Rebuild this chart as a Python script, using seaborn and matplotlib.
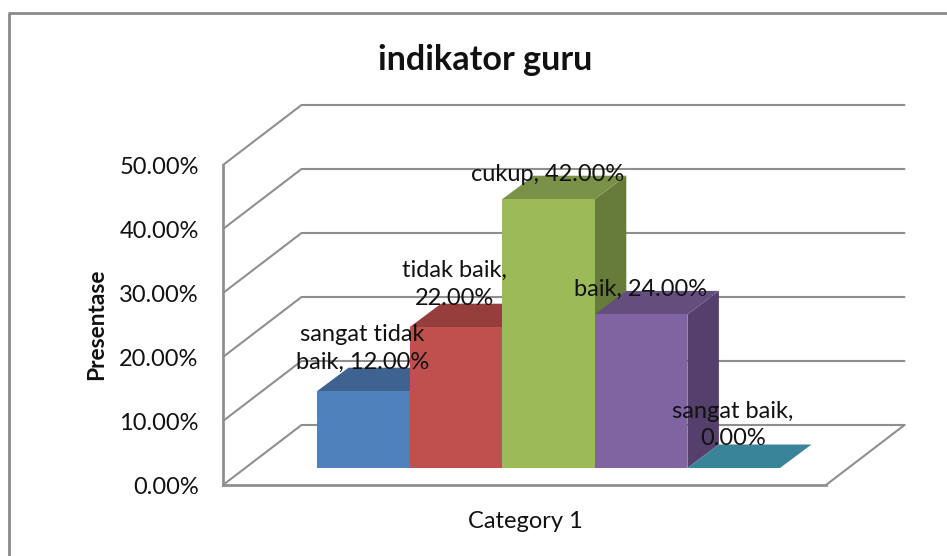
import matplotlib
matplotlib.use("Agg")
import matplotlib.pyplot as plt
from matplotlib.lines import Line2D
from matplotlib.patches import Polygon
from matplotlib.transforms import Affine2D
import pandas as pd
import seaborn as sns

# ---- data ----
category = ["Category 1"] * 5
series = ["sangat tidak baik", "tidak baik", "cukup", "baik", "sangat baik"]
values = [12.0, 22.0, 42.0, 24.0, 0.0]
point_labels = ["sangat tidak\nbaik, 12.00%", "tidak baik,\n22.00%", "cukup, 42.00%",
                "baik, 24.00%", "sangat baik,\n0.00%"]
y_ticks = [0, 10, 20, 30, 40, 50]
title = "indikator guru"
y_title = "Presentase"

front_colors = ["#4F81BD", "#C0504D", "#9BBB59", "#8064A2", "#4BACC6"]
top_colors = ["#3F6391", "#963E3C", "#7A9248", "#644E7E", "#3A8499"]
side_colors = ["#34527A", "#7F3432", "#677C3B", "#553F6C", "#317083"]

# ---- layout (pixels of the 947x556 figure) ----
W, H = 947, 556
LEFT, RIGHT, TOP, BOTTOM = 223, 826, 165, 485
BAR_X0 = 294            # where the first bar starts on the front plane
BAR_SPAN = 463          # width of all five bars
GRID = "#8F8F8F"
INK = "#111111"
FS = 17

sns.set_theme(style="white")
plt.rcParams["font.family"] = ["Lato", "DejaVu Sans"]

fig = plt.figure(figsize=(W / 100, H / 100), dpi=100, facecolor="white")
ax = fig.add_axes([LEFT / W, 1 - BOTTOM / H, (RIGHT - LEFT) / W, (BOTTOM - TOP) / H])
ax.patch.set_alpha(0)

df = pd.DataFrame({"category": category, "series": series, "value": values})
sns.barplot(data=df, x="category", y="value", hue="series", hue_order=series,
            palette=dict(zip(series, front_colors)), saturation=1, width=0.8,
            gap=0, legend=False, ax=ax, linewidth=0, zorder=3)

px_x = 0.8 / BAR_SPAN   # data units per pixel
px_y = 50 / (BOTTOM - TOP)
ax.set_xlim(-0.4 - (BAR_X0 - LEFT) * px_x, -0.4 + (RIGHT - BAR_X0) * px_x)
ax.set_ylim(0, 50)

# walls and floor
dx_wall, dy_wall = 78.5 * px_x, 60 * px_y
x0, x1 = ax.get_xlim()
wall = dict(color=GRID, lw=1.5, clip_on=False, zorder=1, solid_joinstyle="miter")
for t in y_ticks:
    ax.plot([x0, x0 + dx_wall, x1 + dx_wall], [t, t + dy_wall, t + dy_wall], **wall)
ax.plot([x1, x1 + dx_wall], [0, dy_wall], **wall)

# bars: front faces come from seaborn, moved to the middle of the floor
shift = Affine2D().translate(23, 17)
trans = ax.transData + shift
dx_bar, dy_bar = 31.5 * px_x, 23.5 * px_y
bars = [b for c in ax.containers for b in c]
for i, bar in enumerate(bars):
    x, w, h = bar.get_x(), bar.get_width(), bar.get_height()
    z = 3 + i
    bar.set_transform(trans)
    bar.set_clip_on(False)
    bar.set_zorder(z + 0.2)
    if h > 0:
        ax.add_patch(Polygon([(x + w, 0), (x + w + dx_bar, dy_bar),
                              (x + w + dx_bar, h + dy_bar), (x + w, h)],
                             fc=side_colors[i], lw=0, transform=trans, clip_on=False, zorder=z))
    ax.add_patch(Polygon([(x, h), (x + w, h), (x + w + dx_bar, h + dy_bar), (x + dx_bar, h + dy_bar)],
                         fc=top_colors[i], lw=0, transform=trans, clip_on=False, zorder=z + 0.1))
    n_lines = point_labels[i].count("\n") + 1
    lift = 43 if n_lines == 2 else 25
    ax.annotate(point_labels[i], xy=(x + w / 2, h), xycoords=trans,
                xytext=(-1, lift), textcoords="offset pixels", ha="center", va="center",
                fontsize=FS, color=INK, linespacing=1.4, zorder=20, annotation_clip=False)

# axes
sns.despine(ax=ax, top=True, right=True)
for s in ("left", "bottom"):
    ax.spines[s].set_color(GRID)
    ax.spines[s].set_linewidth(2)
    ax.spines[s].set_zorder(2)
ax.set_yticks(y_ticks, [f"{t:.2f}%" for t in y_ticks])
ax.tick_params(axis="both", length=0, labelsize=FS, labelcolor=INK)
ax.tick_params(axis="y", pad=17.5)
ax.tick_params(axis="x", pad=18.5)
ax.set_xlabel("")
ax.set_ylabel(y_title, fontsize=16.4, fontweight="bold", color=INK)
ax.yaxis.set_label_coords((107 - LEFT) / (RIGHT - LEFT), (BOTTOM - 324) / (BOTTOM - TOP))
fig.text(485 / W, 1 - 60 / H, title, ha="center", va="center", fontsize=24.6,
         fontweight="bold", color=INK)

# chart frame: only top and left edges are inside the picture
frame = dict(color="#8A8A8A", lw=2, transform=fig.transFigure, solid_capstyle="butt")
fig.add_artist(Line2D([9 / W, 9 / W], [0, 1 - 13 / H], **frame))
fig.add_artist(Line2D([8 / W, 1], [1 - 13 / H, 1 - 13 / H], **frame))

fig.savefig("out.png", dpi=100)
